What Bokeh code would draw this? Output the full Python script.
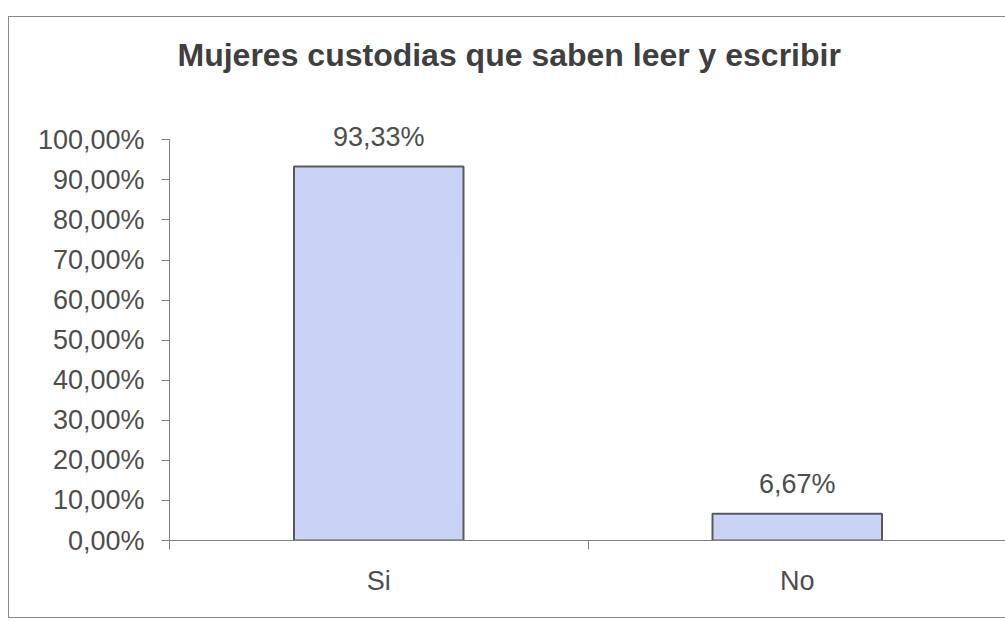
from bokeh.plotting import figure
from bokeh.models import (Range1d, LinearAxis, FixedTicker, Title, ColumnDataSource)
from bokeh.core.properties import value
from bokeh.embed import file_html
from bokeh.resources import INLINE

# ---- data ----
categories = ["Si", "No"]
values = [93.33, 6.67]
data_labels = ["93,33%", "6,67%"]
y_ticks = [0, 10, 20, 30, 40, 50, 60, 70, 80, 90, 100]
y_tick_labels = ["0,00%", "10,00%", "20,00%", "30,00%", "40,00%", "50,00%",
                 "60,00%", "70,00%", "80,00%", "90,00%", "100,00%"]
title_text = "Mujeres custodias que saben leer y escribir"

FONT = "Liberation Sans"
TEXT_COLOR = "#4d4d4d"
AXIS_COLOR = "#808080"

n = len(categories)
centers = [i + 0.5 for i in range(n)]
src = ColumnDataSource(dict(x=centers, top=values, label=data_labels))

p = figure(x_range=Range1d(0, n),
           y_range=Range1d(0, 112.3),
           width=997, height=602,
           output_backend="svg", toolbar_location=None,
           x_axis_location=None, y_axis_location="left",
           min_border_left=160, min_border_right=0,
           min_border_top=0, min_border_bottom=79)
p.margin = (16, 0, 0, 8)
p.styles = {"border-left": "1px solid #8a8a8a",
            "border-top": "1px solid #8a8a8a",
            "border-bottom": "1px solid #8a8a8a"}

p.xgrid.visible = False
p.ygrid.visible = False
p.outline_line_color = None
p.background_fill_color = "white"
p.border_fill_color = "white"

# y axis
ya = p.yaxis[0]
ya.ticker = FixedTicker(ticks=y_ticks)
ya.bounds = (y_ticks[0], y_ticks[-1])
ya.major_label_overrides = dict(zip(y_ticks, y_tick_labels))
ya.major_tick_out = 8
ya.major_tick_in = 0
ya.minor_tick_line_color = None
ya.axis_line_color = AXIS_COLOR
ya.major_tick_line_color = AXIS_COLOR
ya.major_label_text_font = FONT
ya.major_label_text_font_size = "27px"
ya.major_label_text_color = TEXT_COLOR
ya.major_label_standoff = 17

# x axis: line + boundary ticks between categories
bounds = list(range(n + 1))
tick_axis = LinearAxis(ticker=FixedTicker(ticks=bounds),
                       major_tick_out=9, major_tick_in=0,
                       minor_tick_line_color=None,
                       axis_line_color=AXIS_COLOR,
                       major_tick_line_color=AXIS_COLOR,
                       major_label_text_font_size="0px",
                       major_label_standoff=0)
tick_axis.major_label_overrides = {b: "" for b in bounds}
p.add_layout(tick_axis, "below")

# x axis: category labels
label_axis = LinearAxis(ticker=FixedTicker(ticks=centers),
                        axis_line_color=None, major_tick_line_color=None,
                        minor_tick_line_color=None,
                        major_label_text_font=FONT,
                        major_label_text_font_size="27px",
                        major_label_text_color=TEXT_COLOR,
                        major_label_standoff=10)
label_axis.major_label_overrides = dict(zip(centers, categories))
p.add_layout(label_axis, "below")

# title
p.add_layout(Title(text=title_text, align="left", offset=8,
                   text_font=FONT, text_font_size="32px",
                   text_font_style="bold", text_color="#3f3f3f",
                   standoff=35), "above")

# bars
p.vbar(x="x", top="top", width=0.405, source=src,
       fill_color="#c9d3f5", line_color="#5a5a5a", line_width=2)

# data labels
p.text(x="x", y="top", text="label", source=src,
       text_align="center", text_baseline="alphabetic", y_offset=-30,
       text_font=value(FONT), text_font_size="27px", text_color=TEXT_COLOR)

open("out.html", "w").write(file_html(p, INLINE))
